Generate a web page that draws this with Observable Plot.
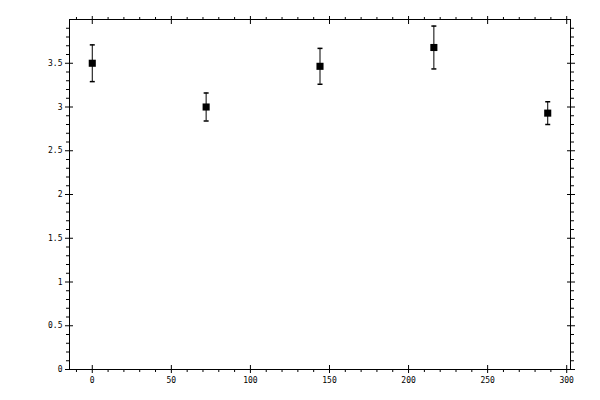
<!DOCTYPE html>
<html>
<head>
<meta charset="utf-8">
<script src="https://cdn.jsdelivr.net/npm/d3@7"></script>
<script src="https://cdn.jsdelivr.net/npm/@observablehq/plot@0.6"></script>
<style>
  html, body { margin: 0; padding: 0; background: #fff; }
</style>
</head>
<body>
<div id="chart"></div>
<script>
const xs = [0, 72, 144, 216, 288];
const ys = [3.50, 3.00, 3.465, 3.68, 2.93];
const errs = [0.21, 0.16, 0.205, 0.245, 0.13];

const xMajor = [0, 50, 100, 150, 200, 250, 300];
const xMinor = d3.range(-10, 301, 10).filter(v => v % 50 !== 0);
const yMajor = [0, 0.5, 1, 1.5, 2, 2.5, 3, 3.5];
const yMinor = d3.range(1, 40).map(v => v / 10).filter((v, i) => (i + 1) % 5 !== 0);

const data = xs.map((x, i) => ({x, y: ys[i], lo: ys[i] - errs[i], hi: ys[i] + errs[i]}));

const capSymbol = {
  draw(ctx, size) {
    ctx.moveTo(-2.5, 0);
    ctx.lineTo(2.5, 0);
  }
};

const font = "DejaVu Sans Mono";
const fmt = d => String(d);

const chart = Plot.plot({
  width: 600,
  height: 400,
  marginLeft: 69,
  marginRight: 30,
  marginTop: 19,
  marginBottom: 31,
  style: {fontFamily: font, fontSize: "8px", background: "#fff", color: "#000"},
  x: {domain: [-14.4, 302.4]},
  y: {domain: [0, 4]},
  marks: [
    Plot.frame({stroke: "black"}),
    // major ticks crossing frame
    Plot.axisX(xMajor, {anchor: "bottom", tickSize: 8, dy: -4, fill: "none", label: null}),
    Plot.axisX(xMajor, {anchor: "top", tickSize: 8, dy: 4, fill: "none", label: null}),
    Plot.axisY(yMajor, {anchor: "left", tickSize: 8, dx: 4, fill: "none", label: null}),
    Plot.axisY(yMajor, {anchor: "right", tickSize: 8, dx: -4, fill: "none", label: null}),
    // minor ticks outward
    Plot.axisX(xMinor, {anchor: "bottom", tickSize: 3, fill: "none", label: null}),
    Plot.axisX(xMinor, {anchor: "top", tickSize: 3, fill: "none", label: null}),
    Plot.axisY(yMinor, {anchor: "left", tickSize: 3, fill: "none", label: null}),
    Plot.axisY(yMinor, {anchor: "right", tickSize: 3, fill: "none", label: null}),
    // labels
    Plot.axisX(xMajor, {anchor: "bottom", tickSize: 0, tickPadding: 8, tickFormat: fmt, label: null}),
    Plot.axisY(yMajor, {anchor: "left", tickSize: 0, tickPadding: 7, tickFormat: fmt, label: null}),
    // error bars
    Plot.ruleX(data, {x: "x", y1: "lo", y2: "hi", stroke: "black"}),
    Plot.dot(data, {x: "x", y: "hi", symbol: capSymbol, stroke: "black", r: 3}),
    Plot.dot(data, {x: "x", y: "lo", symbol: capSymbol, stroke: "black", r: 3}),
    Plot.dot(data, {x: "x", y: "y", symbol: "square", fill: "black", r: 4})
  ]
});
document.getElementById("chart").appendChild(chart);
</script>
</body>
</html>
